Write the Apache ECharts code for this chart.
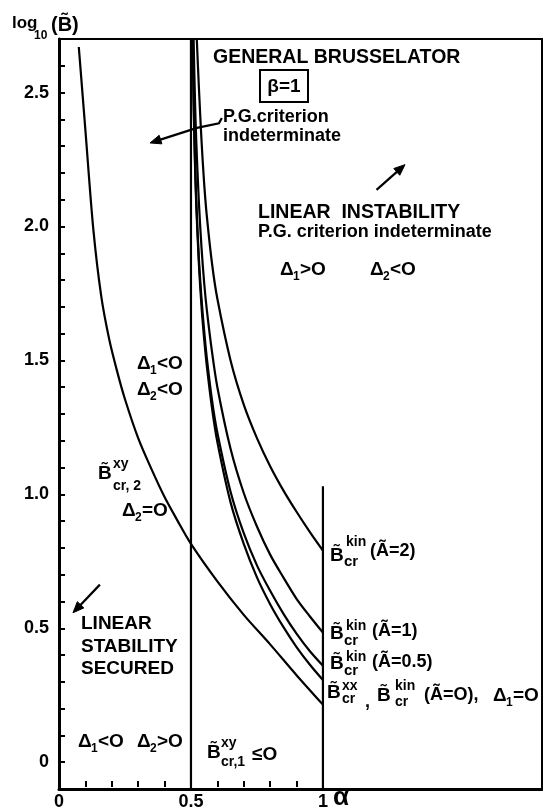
<!DOCTYPE html>
<html><head><meta charset="utf-8">
<script src="https://cdn.jsdelivr.net/npm/echarts@6/dist/echarts.min.js"></script>
<style>html,body{margin:0;padding:0;background:#fff}#c{width:543px;height:811px}</style>
</head><body><div id="c"></div>
<script>
// ---- data (x = alpha, y = log10 B~) ----
const xTickLabels = ['0', '0.5', '1'];
const yTickLabels = ['0', '0.5', '1.0', '1.5', '2.0', '2.5'];

// B~xy_cr,2  (Delta2 = 0)
const delta2X = [0.075,0.1,0.13,0.16,0.19,0.22,0.25,0.3,0.35,0.4,0.45,0.5,0.6,0.7,0.8,0.9,1.0];
const delta2Y = [2.67,2.36,1.99,1.74,1.58,1.46,1.355,1.21,1.095,0.99,0.90,0.815,0.675,0.55,0.44,0.325,0.215];
// B~kin_cr (A~=2)
const kinA2X = [0.522,0.53,0.54,0.55,0.56,0.58,0.6,0.65,0.7,0.75,0.8,0.85,0.9,0.95,1.0];
const kinA2Y = [2.70,2.52,2.32,2.16,2.04,1.86,1.73,1.50,1.335,1.21,1.105,1.015,0.935,0.86,0.79];
// B~kin_cr (A~=1)
const kinA1X = [0.51,0.515,0.52,0.53,0.54,0.55,0.56,0.58,0.6,0.65,0.7,0.75,0.8,0.85,0.9,0.95,1.0];
const kinA1Y = [2.70,2.48,2.32,2.09,1.92,1.79,1.69,1.53,1.40,1.17,1.005,0.88,0.775,0.69,0.61,0.545,0.484];
// B~kin_cr (A~=0.5)
const kinA05X = [0.5065,0.51,0.515,0.52,0.53,0.54,0.55,0.56,0.58,0.6,0.65,0.7,0.75,0.8,0.85,0.9,0.95,1.0];
const kinA05Y = [2.70,2.48,2.26,2.10,1.88,1.73,1.61,1.51,1.35,1.23,1.01,0.855,0.735,0.64,0.555,0.48,0.415,0.36];
// B~xx_cr = B~kin_cr (A~=0), Delta1 = 0
const kinA0X = [0.5068,0.51,0.515,0.52,0.53,0.54,0.55,0.56,0.58,0.6,0.65,0.7,0.75,0.8,0.85,0.9,0.95,1.0];
const kinA0Y = [2.70,2.465,2.24,2.08,1.86,1.70,1.58,1.48,1.32,1.195,0.97,0.815,0.69,0.59,0.505,0.43,0.365,0.307];
// boundaries alpha = 0.5 and alpha = 1
const bound05 = [[0.5,-0.1],[0.5,2.7]];
const bound1 = [[1,-0.1],[1,1.03]];
// annotation arrows (data coordinates, last point = arrow tip)
const arrowPG = [[0.617,2.405],[0.606,2.385],[0.523,2.368],[0.345,2.312]];
const arrowUp = [[1.203,2.137],[1.311,2.231]];
const arrowDown = [[0.155,0.663],[0.053,0.558]];
const arrows = [arrowPG, arrowUp, arrowDown];

// ---- chart ----
const FF = '"Liberation Sans", Arial, Helvetica, sans-serif';
const zip = (xs, ys) => xs.map((x, i) => [x, ys[i]]);
const T = (x, y, text, size, extra) => ({
  type: 'text', x: x, y: y, silent: true,
  style: Object.assign({ text: text, fontSize: size, fontWeight: 'bold', fontFamily: FF,
    fill: '#000', verticalAlign: 'middle', align: 'left' }, extra || {})
});
const Bt = 'B\u0303';
const At = '\u00C3';

function curve(name, xs, ys) {
  return { name: name, type: 'line', xAxisIndex: 0, yAxisIndex: 0, data: zip(xs, ys),
    showSymbol: false, smooth: 0.3, lineStyle: { color: '#000', width: 2.2 }, silent: true };
}
function straight(name, d) {
  return { name: name, type: 'line', xAxisIndex: 0, yAxisIndex: 0, data: d,
    showSymbol: false, lineStyle: { color: '#000', width: 2.2 }, silent: true };
}

const chart = echarts.init(document.getElementById('c'), null, { renderer: 'canvas' });
const labelStyle = { color: '#000', fontSize: 18, fontWeight: 'bold', fontFamily: FF };

const texts = [
  // axis name
  T(12, 23, 'log', 17), T(34, 36, '10', 12), T(51, 25, '(' + Bt + ')', 20),
  // top block
  T(213, 57.5, 'GENERAL BRUSSELATOR', 19.5),
  { type: 'rect', shape: { x: 260, y: 70, width: 48, height: 32 },
    style: { fill: 'none', stroke: '#000', lineWidth: 2 } },
  T(284, 87, '\u03B2=1', 19, { align: 'center' }),
  T(223, 117, 'P.G.criterion', 18),
  T(223, 136, 'indeterminate', 18),
  T(258, 213, 'LINEAR  INSTABILITY', 19.5),
  T(258, 232.5, 'P.G. criterion indeterminate', 18),
  T(280, 270, '\u0394', 19), T(293, 277, '1', 12), T(300, 270, '>O', 19),
  T(370, 270, '\u0394', 19), T(383, 277, '2', 12), T(390, 270, '<O', 19),
  // left upper
  T(137, 364, '\u0394', 19), T(150, 371, '1', 12), T(157, 364, '<O', 19),
  T(137, 390, '\u0394', 19), T(150, 397, '2', 12), T(157, 390, '<O', 19),
  T(98, 474, Bt, 19), T(113, 464, 'xy', 14), T(113, 486, 'cr, 2', 14),
  T(122, 511, '\u0394', 19), T(135, 518, '2', 12), T(142, 511, '=O', 19),
  // left lower
  T(81, 623.5, 'LINEAR', 19), T(81, 646.5, 'STABILITY', 19), T(81, 668.5, 'SECURED', 19),
  T(78, 742, '\u0394', 19), T(91, 749, '1', 12), T(98, 742, '<O', 19),
  T(137, 742, '\u0394', 19), T(150, 749, '2', 12), T(157, 742, '>O', 19),
  T(207, 753, Bt, 19), T(221, 743, 'xy', 14), T(221, 762, 'cr,1', 14), T(252, 755, '\u2264O', 19),
  // right labels
  T(330, 556, Bt, 19), T(346, 542, 'kin', 14), T(344, 562, 'cr', 15), T(370, 551, '(' + At + '=2)', 18),
  T(330, 634, Bt, 19), T(346, 626, 'kin', 14), T(344, 641, 'cr', 15), T(372, 631, '(' + At + '=1)', 18),
  T(330, 664, Bt, 19), T(346, 657, 'kin', 14), T(344, 671, 'cr', 15), T(372, 662, '(' + At + '=0.5)', 18),
  T(327, 693, Bt, 19), T(342, 686, 'xx', 14), T(342, 699, 'cr', 14), T(365, 702, ',', 18),
  T(377, 696, Bt, 19), T(395, 686, 'kin', 14), T(395, 702, 'cr', 14), T(424, 695.5, '(' + At + '=O),', 18),
  T(493, 696, '\u0394', 19), T(506, 703, '1', 12), T(513, 696, '=O', 19),
  // x axis name
  T(333, 798, '\u03B1', 26)
];

function renderArrow(params, api) {
  const pts = arrows[params.dataIndex].map(p => api.coord(p));
  const tip = pts[pts.length - 1], prev = pts[pts.length - 2];
  const ang = Math.atan2(tip[1] - prev[1], tip[0] - prev[0]);
  const L = 11, W = 4.5;
  const bx = tip[0] - L * Math.cos(ang), by = tip[1] - L * Math.sin(ang);
  const head = [tip,
    [bx + W * Math.sin(ang), by - W * Math.cos(ang)],
    [bx - W * Math.sin(ang), by + W * Math.cos(ang)]];
  const linePts = pts.slice(0, -1).concat([[tip[0] - 6 * Math.cos(ang), tip[1] - 6 * Math.sin(ang)]]);
  return { type: 'group', children: [
    { type: 'polyline', shape: { points: linePts }, style: { stroke: '#000', lineWidth: 2.2, fill: null } },
    { type: 'polygon', shape: { points: head }, style: { fill: '#000', stroke: '#000', lineWidth: 1 } }
  ] };
}

chart.setOption({
  animation: false,
  backgroundColor: '#fff',
  grid: [
    { left: 59, right: 1, top: 39, bottom: 22, show: true, borderColor: '#000', borderWidth: 2 },
    { left: 59, top: 39, width: 264, height: 750 }
  ],
  xAxis: [
    { gridIndex: 0, type: 'value', min: 0, max: 1.83,
      axisLine: { show: true, onZero: false, lineStyle: { color: '#000', width: 3 } },
      axisTick: { show: false }, axisLabel: { show: false }, splitLine: { show: false } },
    { gridIndex: 1, type: 'value', min: 0, max: 1, interval: 0.1,
      axisLine: { show: false, onZero: false },
      axisTick: { show: true, inside: true, length: 6, lineStyle: { color: '#000', width: 2 } },
      axisLabel: Object.assign({ margin: 6, formatter: function (v) {
        const k = Math.round(v * 10);
        if (k === 0) return xTickLabels[0];
        if (k === 5) return xTickLabels[1];
        if (k === 10) return xTickLabels[2];
        return '';
      } }, labelStyle),
      splitLine: { show: false } }
  ],
  yAxis: [
    { gridIndex: 0, type: 'value', min: -0.1, max: 2.7, interval: 0.1,
      axisLine: { show: true, onZero: false, lineStyle: { color: '#000', width: 3 } },
      axisTick: { show: true, inside: true, length: 6, lineStyle: { color: '#000', width: 2 } },
      axisLabel: Object.assign({ margin: 10, formatter: function (v) {
        const k = Math.round(v * 10);
        if (k >= 0 && k <= 25 && k % 5 === 0) return yTickLabels[k / 5];
        return '';
      } }, labelStyle),
      splitLine: { show: false } },
    { gridIndex: 1, type: 'value', min: -0.1, max: 2.7, show: false }
  ],
  series: [
    straight('alpha=0.5', bound05),
    straight('alpha=1', bound1),
    curve('Bxy_cr,2 (Delta2=0)', delta2X, delta2Y),
    curve('Bkin_cr (A=2)', kinA2X, kinA2Y),
    curve('Bkin_cr (A=1)', kinA1X, kinA1Y),
    curve('Bkin_cr (A=0.5)', kinA05X, kinA05Y),
    curve('Bxx_cr = Bkin_cr (A=0)', kinA0X, kinA0Y),
    { type: 'custom', coordinateSystem: 'cartesian2d', xAxisIndex: 0, yAxisIndex: 0,
      silent: true, clip: false, renderItem: renderArrow,
      data: arrows.map((a, i) => [a[a.length - 1][0], a[a.length - 1][1], i]) }
  ],
  graphic: texts
});
</script>
</body></html>
